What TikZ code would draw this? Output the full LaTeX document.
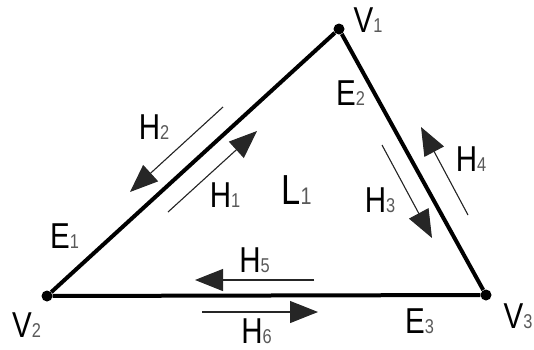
\documentclass[tikz,border=0pt]{standalone}
\usepackage{fontspec}
\setmainfont[FakeStretch=0.82]{Liberation Sans}
\usetikzlibrary{arrows.meta}
\newcommand{\sublbl}[3][20]{#2{\fontsize{#1}{#1}\selectfont\color{black!65}#3}}

\begin{document}
\begin{tikzpicture}[x=1pt, y=-1pt,
    vertex/.style={circle, fill=black, inner sep=0pt, minimum size=11pt},
    edge/.style={line width=4pt},
    half/.style={-{Triangle[length=28pt,width=22pt]}, line width=1.1pt, draw=black!85, fill=black},
    lbl/.style={inner sep=0pt, font=\fontsize{36}{36}\selectfont}
]
\useasboundingbox (0,0) rectangle (534,349);

% vertices and edges
\node[vertex] (v1) at (339,29) {};
\node[vertex] (v2) at (47,296) {};
\node[vertex] (v3) at (486,295) {};
\draw[edge] (v2) -- (v1);
\draw[edge] (v1) -- (v3);
\draw[edge] (v3) -- (v2);

% half-edges
\coordinate (h1s) at (168,212); \coordinate (h1e) at (257,131);
\coordinate (h2s) at (223,107); \coordinate (h2e) at (130,192);
\coordinate (h3s) at (382,145); \coordinate (h3e) at (432,238);
\coordinate (h4s) at (468,215); \coordinate (h4e) at (421,127);
\coordinate (h5s) at (314,280); \coordinate (h5e) at (195,280);
\coordinate (h6s) at (202,312); \coordinate (h6e) at (318,312);
\draw[half] (h1s) -- (h1e);
\draw[half] (h2s) -- (h2e);
\draw[half] (h3s) -- (h3e);
\draw[half] (h4s) -- (h4e);
\draw[half] (h5s) -- (h5e);
\draw[half] (h6s) -- (h6e);

% labels
\node[lbl] (lv1) at (368,20.5) {\sublbl{V}{1}};
\node[lbl] (lv2) at (26.5,325) {\sublbl{V}{2}};
\node[lbl] (lv3) at (518,316.5) {\sublbl{V}{3}};
\node[lbl] (le1) at (64.5,236.5) {\sublbl{E}{1}};
\node[lbl] (le2) at (350.5,93) {\sublbl{E}{2}};
\node[lbl] (le3) at (419.5,321) {\sublbl{E}{3}};
\node[lbl] (lh1) at (225,195) {\sublbl{H}{1}};
\node[lbl] (lh2) at (154,127.5) {\sublbl{H}{2}};
\node[lbl] (lh3) at (380,200.5) {\sublbl{H}{3}};
\node[lbl] (lh4) at (471,159.5) {\sublbl{H}{4}};
\node[lbl] (lh5) at (254.5,260.5) {\sublbl{H}{5}};
\node[lbl] (lh6) at (256.5,331) {\sublbl{H}{6}};
\node[lbl, font=\fontsize{42}{42}\selectfont] (ll1) at (296.5,190) {\sublbl[24]{L}{1}};
\end{tikzpicture}
\end{document}
